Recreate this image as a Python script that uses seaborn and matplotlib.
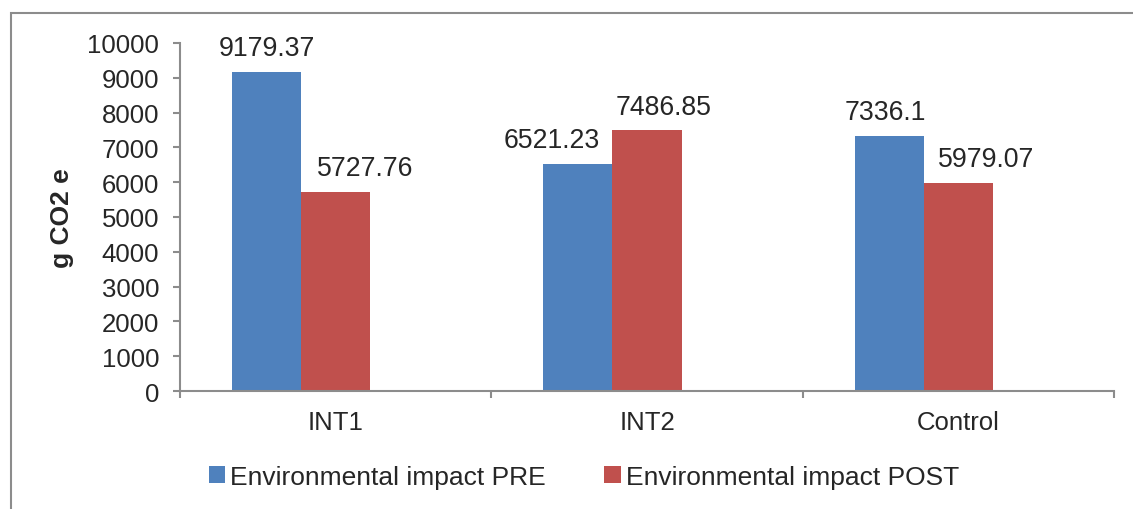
import matplotlib
matplotlib.use("Agg")
import matplotlib.pyplot as plt
import seaborn as sns
import pandas as pd
from matplotlib.patches import Patch, Rectangle

# data
groups = ["INT1", "INT2", "Control"]
pre_values = [9179.37, 6521.23, 7336.1]
post_values = [5727.76, 7486.85, 5979.07]
series_names = ["Environmental impact PRE", "Environmental impact POST"]
yticks = list(range(0, 10001, 1000))

colors = ["#4F81BD", "#C0504D"]
# manual horizontal nudges of the value labels (pixels), as in the original
label_dx = [[0, 29], [-26, 17], [-4, 28]]

df = pd.DataFrame({
    "group": groups * 2,
    "series": [series_names[0]] * 3 + [series_names[1]] * 3,
    "value": pre_values + post_values,
})

sns.set_style("white")
plt.rcParams["font.family"] = ["Liberation Sans", "DejaVu Sans"]

fig = plt.figure(figsize=(11.33, 5.10), dpi=100)
ax = fig.add_axes([180 / 1133, 1 - 392 / 510, 934 / 1133, 348 / 510])

# third (empty) hue level keeps Excel's off-centre bar placement
sns.barplot(data=df, x="group", y="value", hue="series",
            hue_order=series_names + ["_empty"], order=groups,
            palette=colors + ["#ffffff"], width=0.666, saturation=1,
            errorbar=None, legend=False, linewidth=0, ax=ax)

ax.set_xlim(-0.5, 2.5)
ax.set_ylim(0, 10000)
ax.set_yticks(yticks)
ax.set_xlabel("")

grey = "#8c8c8c"
for side in ["top", "right"]:
    ax.spines[side].set_visible(False)
for side in ["left", "bottom"]:
    ax.spines[side].set_color(grey)
    ax.spines[side].set_linewidth(1.5)

ax.tick_params(axis="y", length=5, width=1.5, color=grey, pad=10, labelsize=18.5, left=True)
ax.tick_params(axis="x", which="major", length=0, pad=14, labelsize=18.5)
ax.set_xticks([-0.5, 0.5, 1.5, 2.5], minor=True)
ax.tick_params(axis="x", which="minor", length=5, width=1.5, color=grey, bottom=True)

ax.set_ylabel("g CO2 e", fontsize=19, fontweight="bold")
ax.yaxis.set_label_coords(-0.126, 0.5)
ax.yaxis.label.set_verticalalignment("center")

# value labels
values = [pre_values, post_values]
for s, cont in enumerate(ax.containers[:2]):
    for g, bar in enumerate(cont):
        ax.annotate(str(values[s][g]),
                    (bar.get_x() + bar.get_width() / 2, bar.get_height()),
                    xytext=(label_dx[g][s] * 0.72, 12), textcoords="offset points",
                    ha="center", va="baseline", fontsize=19.2)

handles = [Patch(facecolor=c, edgecolor="none") for c in colors]
fig.legend(handles, series_names, loc="center", bbox_to_anchor=(584 / 1133, 1 - 478 / 510),
           ncol=2, frameon=False, fontsize=19, handlelength=0.62, handleheight=0.62,
           handletextpad=0.2, columnspacing=2.2)

# outer chart border (runs off the right and bottom edges)
fig.add_artist(Rectangle((11 / 1133, -0.1), 1.2, 1.1 - 14 / 510, transform=fig.transFigure,
                         fill=False, edgecolor=grey, linewidth=1.5))

fig.savefig("out.png", dpi=100)
